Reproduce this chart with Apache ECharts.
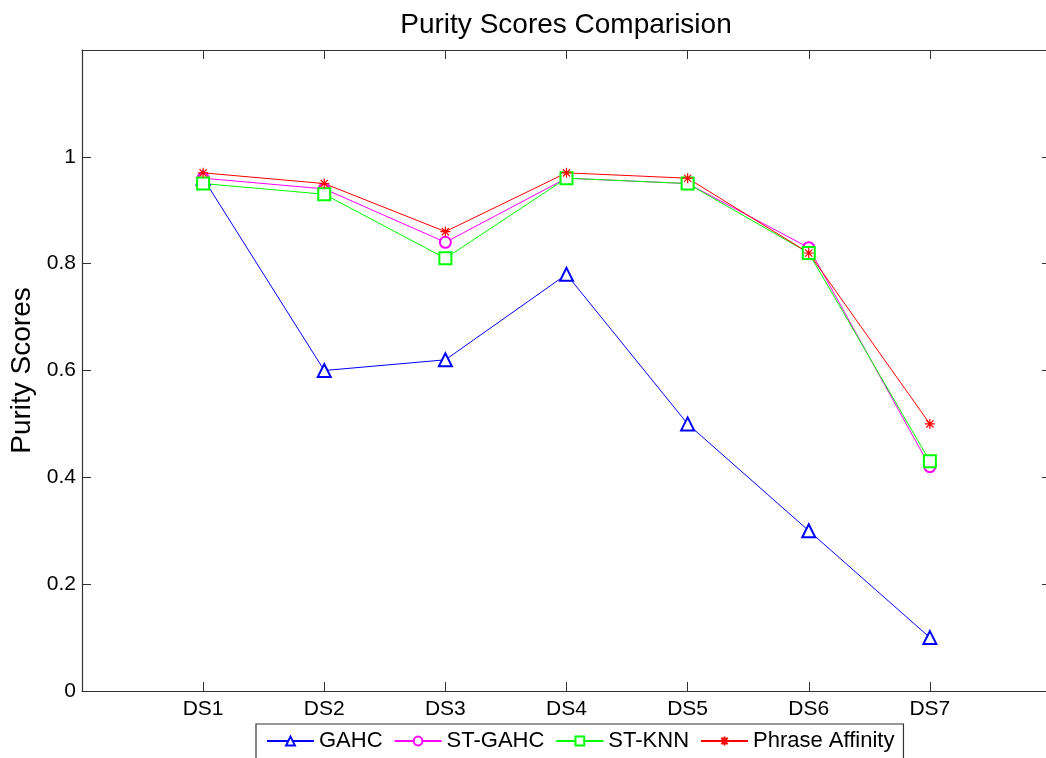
<!DOCTYPE html>
<html>
<head>
<meta charset="utf-8">
<script src="https://cdn.jsdelivr.net/npm/echarts@6/dist/echarts.min.js"></script>
<style>html,body{margin:0;padding:0;background:#fff}#c{width:1046px;height:758px}</style>
</head>
<body>
<div id="c"></div>
<script>
const categories = ['DS1','DS2','DS3','DS4','DS5','DS6','DS7'];
const gahc = [0.96, 0.60, 0.62, 0.78, 0.50, 0.30, 0.10];
const stGahc = [0.96, 0.94, 0.84, 0.96, 0.95, 0.83, 0.42];
const stKnn = [0.95, 0.93, 0.81, 0.96, 0.95, 0.82, 0.43];
const phraseAffinity = [0.97, 0.95, 0.86, 0.97, 0.96, 0.82, 0.50];
const yTicks = [0, 0.2, 0.4, 0.6, 0.8, 1];

const FONT = 'Liberation Sans, Arial, Helvetica, sans-serif';
const toPairs = arr => arr.map((v, i) => [i + 1, v]);
const STAR = 'path://M0,-5L0,5M-5,0L5,0M-3.6,-3.6L3.6,3.6M-3.6,3.6L3.6,-3.6';

function mk(name, data, color, symbol, size) {
  return {
    name, type: 'line', data: toPairs(data),
    symbol, symbolSize: size,
    lineStyle: { color, width: 1 },
    itemStyle: { color, borderColor: color, borderWidth: 1.2 },
    emphasis: { disabled: true },
    animation: false
  };
}

function axisCommon(showLine) {
  return {
    axisLine: { show: showLine !== false, onZero: false, lineStyle: { color: '#333', width: 1.2 } },
    axisTick: { show: true, inside: true, length: 9, lineStyle: { color: '#333', width: 1 } },
    splitLine: { show: false }
  };
}

const chart = echarts.init(document.getElementById('c'), null, { renderer: 'canvas' });
chart.setOption({
  backgroundColor: '#fff',
  animation: false,
  title: {
    text: 'Purity Scores Comparision',
    left: 561, top: 6, textAlign: 'center',
    textStyle: { fontFamily: FONT, fontSize: 28, fontWeight: 'normal', color: '#000' }
  },
  grid: { left: 82, right: -5, top: 50, bottom: 67, containLabel: false, outerBoundsMode: 'none' },
  xAxis: [
    Object.assign({
      type: 'value', min: 0, max: 8, interval: 1, position: 'bottom',
      axisLabel: {
        margin: 8, fontFamily: FONT, fontSize: 21, color: '#000',
        formatter: v => categories[v - 1] || ''
      }
    }, axisCommon()),
    Object.assign({
      type: 'value', min: 0, max: 8, interval: 1, position: 'top',
      axisLabel: { show: false }
    }, axisCommon())
  ],
  yAxis: [
    Object.assign({
      type: 'value', min: 0, max: 1.2, interval: 0.2, position: 'left',
      name: 'Purity Scores', nameLocation: 'middle', nameGap: 42, nameRotate: 90,
      nameTextStyle: { fontFamily: FONT, fontSize: 28, color: '#000' },
      axisLabel: {
        margin: 6, fontFamily: FONT, fontSize: 21, color: '#000',
        formatter: v => {
          const m = yTicks.find(t => Math.abs(t - v) < 1e-6);
          return m === undefined ? '' : String(m);
        }
      }
    }, axisCommon()),
    Object.assign({
      type: 'value', min: 0, max: 1.2, interval: 0.2, position: 'right',
      axisLabel: { show: false }
    }, axisCommon(false))
  ],
  legend: {
    left: 256, top: 724,
    orient: 'horizontal',
    itemWidth: 47, itemHeight: 11, itemGap: 11,
    padding: [6, 9, 40, 10],
    borderColor: '#333', borderWidth: 1.2, backgroundColor: '#fff',
    textStyle: { fontFamily: FONT, fontSize: 22, color: '#000' },
    data: ['GAHC', 'ST-GAHC', 'ST-KNN', 'Phrase Affinity']
  },
  series: [
    mk('GAHC', gahc, '#0000ff', 'emptyTriangle', 13),
    mk('ST-GAHC', stGahc, '#ff00ff', 'emptyCircle', 11),
    mk('ST-KNN', stKnn, '#00ff00', 'emptyRect', 12),
    mk('Phrase Affinity', phraseAffinity, '#ff0000', STAR, 10)
  ]
});
</script>
</body>
</html>
